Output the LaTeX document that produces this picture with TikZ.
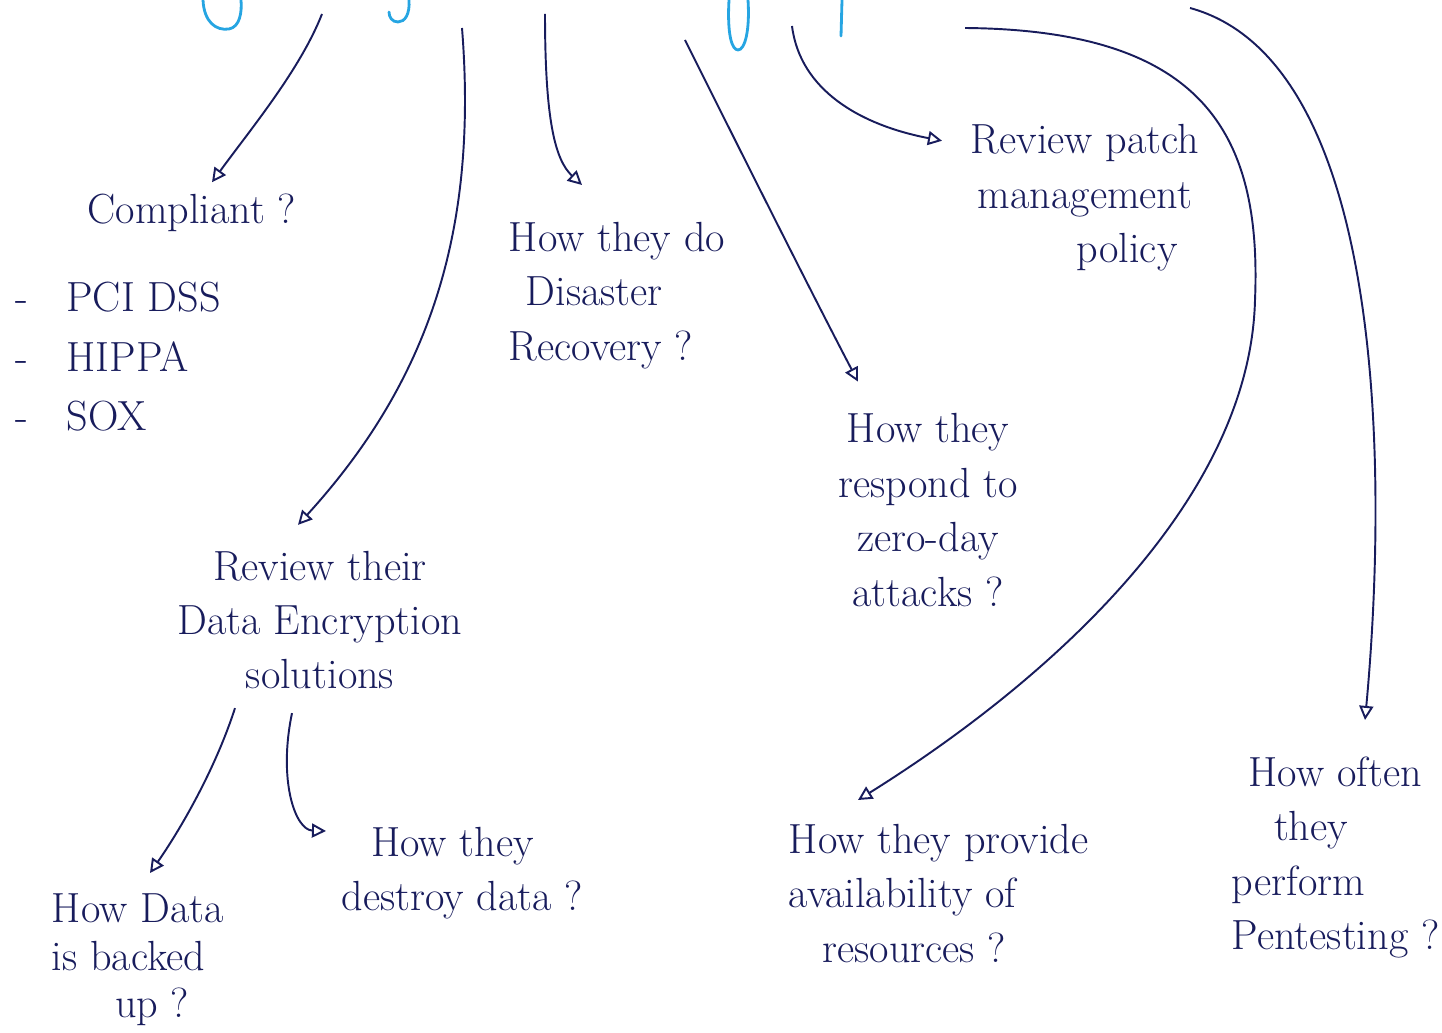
\documentclass[tikz,border=0pt]{standalone}
\usepackage{xcolor}
\usepackage{fontspec}
\usepackage{tikz}
\usetikzlibrary{arrows.meta, calc}
\definecolor{ink}{RGB}{24,28,92}
\definecolor{penblue}{RGB}{38,165,226}

\begin{document}
\begin{tikzpicture}[
    x=0.02cm, y=-0.02cm,
    note/.style={
      text=ink, font=\fontsize{24}{31}\selectfont,
      align=center, inner sep=2pt
    },
    arr/.style={-{Triangle[open, length=8pt, width=8pt]}, line width=1.1pt, ink},
    scrawl/.style={line width=1.6pt, penblue, line cap=round},
  ]
  \useasboundingbox (0,0) rectangle (1442,1033);

  % cut-off heading at the top edge
  \draw[scrawl] (203,0) .. controls (204,22) and (216,31) .. (229,29) .. controls (240,27) and (242,12) .. (241,0);
  \draw[scrawl] (409,0) .. controls (410,14) and (405,22) .. (398,22) .. controls (392,22) and (389,17) .. (389,12);
  \draw[scrawl] (729,0) .. controls (727,35) and (732,50) .. (738,50) .. controls (745,50) and (750,30) .. (748,0);
  \draw[scrawl] (842,0) -- (841,36);

  \coordinate (h1) at (322,14);
  \coordinate (h2) at (462,28);
  \coordinate (h3) at (545,14);
  \coordinate (h4) at (685,40);
  \coordinate (h5) at (792,26);
  \coordinate (h6) at (965,28);
  \coordinate (h7) at (1190,8);

  \node[note] (comp) at (192,213) {Compliant ?};
  \node[note, align=left, anchor=north west, font=\fontsize{24}{34}\selectfont] (regs) at (12,278)
    {-\hspace{0.9em}PCI DSS\\-\hspace{0.9em}HIPPA\\-\hspace{0.9em}SOX};
  \node[note, align=left, anchor=north west] (dis) at (505,218) {How they do\\\hspace{0.4em}Disaster\\Recovery ?};
  \node[note] (zero) at (928,510) {How they\\respond to\\zero-day\\attacks ?};
  \node[note] (patch) at (1085,198) {Review patch\\management\\\hspace{2em}policy};
  \node[note] (enc) at (320,620) {Review their\\Data Encryption\\solutions};
  \node[note, align=left, anchor=north west, font=\fontsize{24}{27}\selectfont] (back) at (48,890)
    {How Data\\is backed\\\hspace{1.5em}up ?};
  \node[note, align=left, anchor=north west] (dest) at (338,823) {\hspace{0.7em}How they\\destroy data ?};
  \node[note, align=left, anchor=north west] (avail) at (785,820) {How they provide\\availability of\\\hspace{0.8em}resources ?};
  \node[note, align=left, anchor=north west] (pent) at (1228,753) {\hspace{0.4em}How often\\\hspace{1em}they\\perform\\Pentesting ?};

  \draw[arr] (h1) .. controls (300,70) and (250,130) .. ($(comp.north)+(20,-8)$);
  \draw[arr] (h2) .. controls (478,230) and (430,380) .. ($(enc.north)+(-22,-22)$);
  \draw[arr] (h3) .. controls (545,120) and (555,160) .. ($(dis.north west)+(77,-33)$);
  \draw[arr] (h4) .. controls (740,150) and (810,290) .. ($(zero.north)+(-70,-28)$);
  \draw[arr] (h5) .. controls (800,90) and (860,125) .. ($(patch.north west)+(-25,20)$);
  \draw[arr] (h6) .. controls (1200,30) and (1262,130) .. (1255,300)
    .. controls (1250,500) and (1050,680) .. ($(avail.north west)+(73,-20)$);
  \draw[arr] (h7) .. controls (1380,60) and (1390,450) .. ($(pent.north west)+(137,-33)$);
  \draw[arr] ($(enc.south)+(-85,15)$) .. controls (215,770) and (180,830) .. ($(back.north west)+(102,-17)$);
  \draw[arr] ($(enc.south)+(-28,20)$) .. controls (278,780) and (295,830) .. ($(dest.north west)+(-12,8)$);
\end{tikzpicture}
\end{document}
